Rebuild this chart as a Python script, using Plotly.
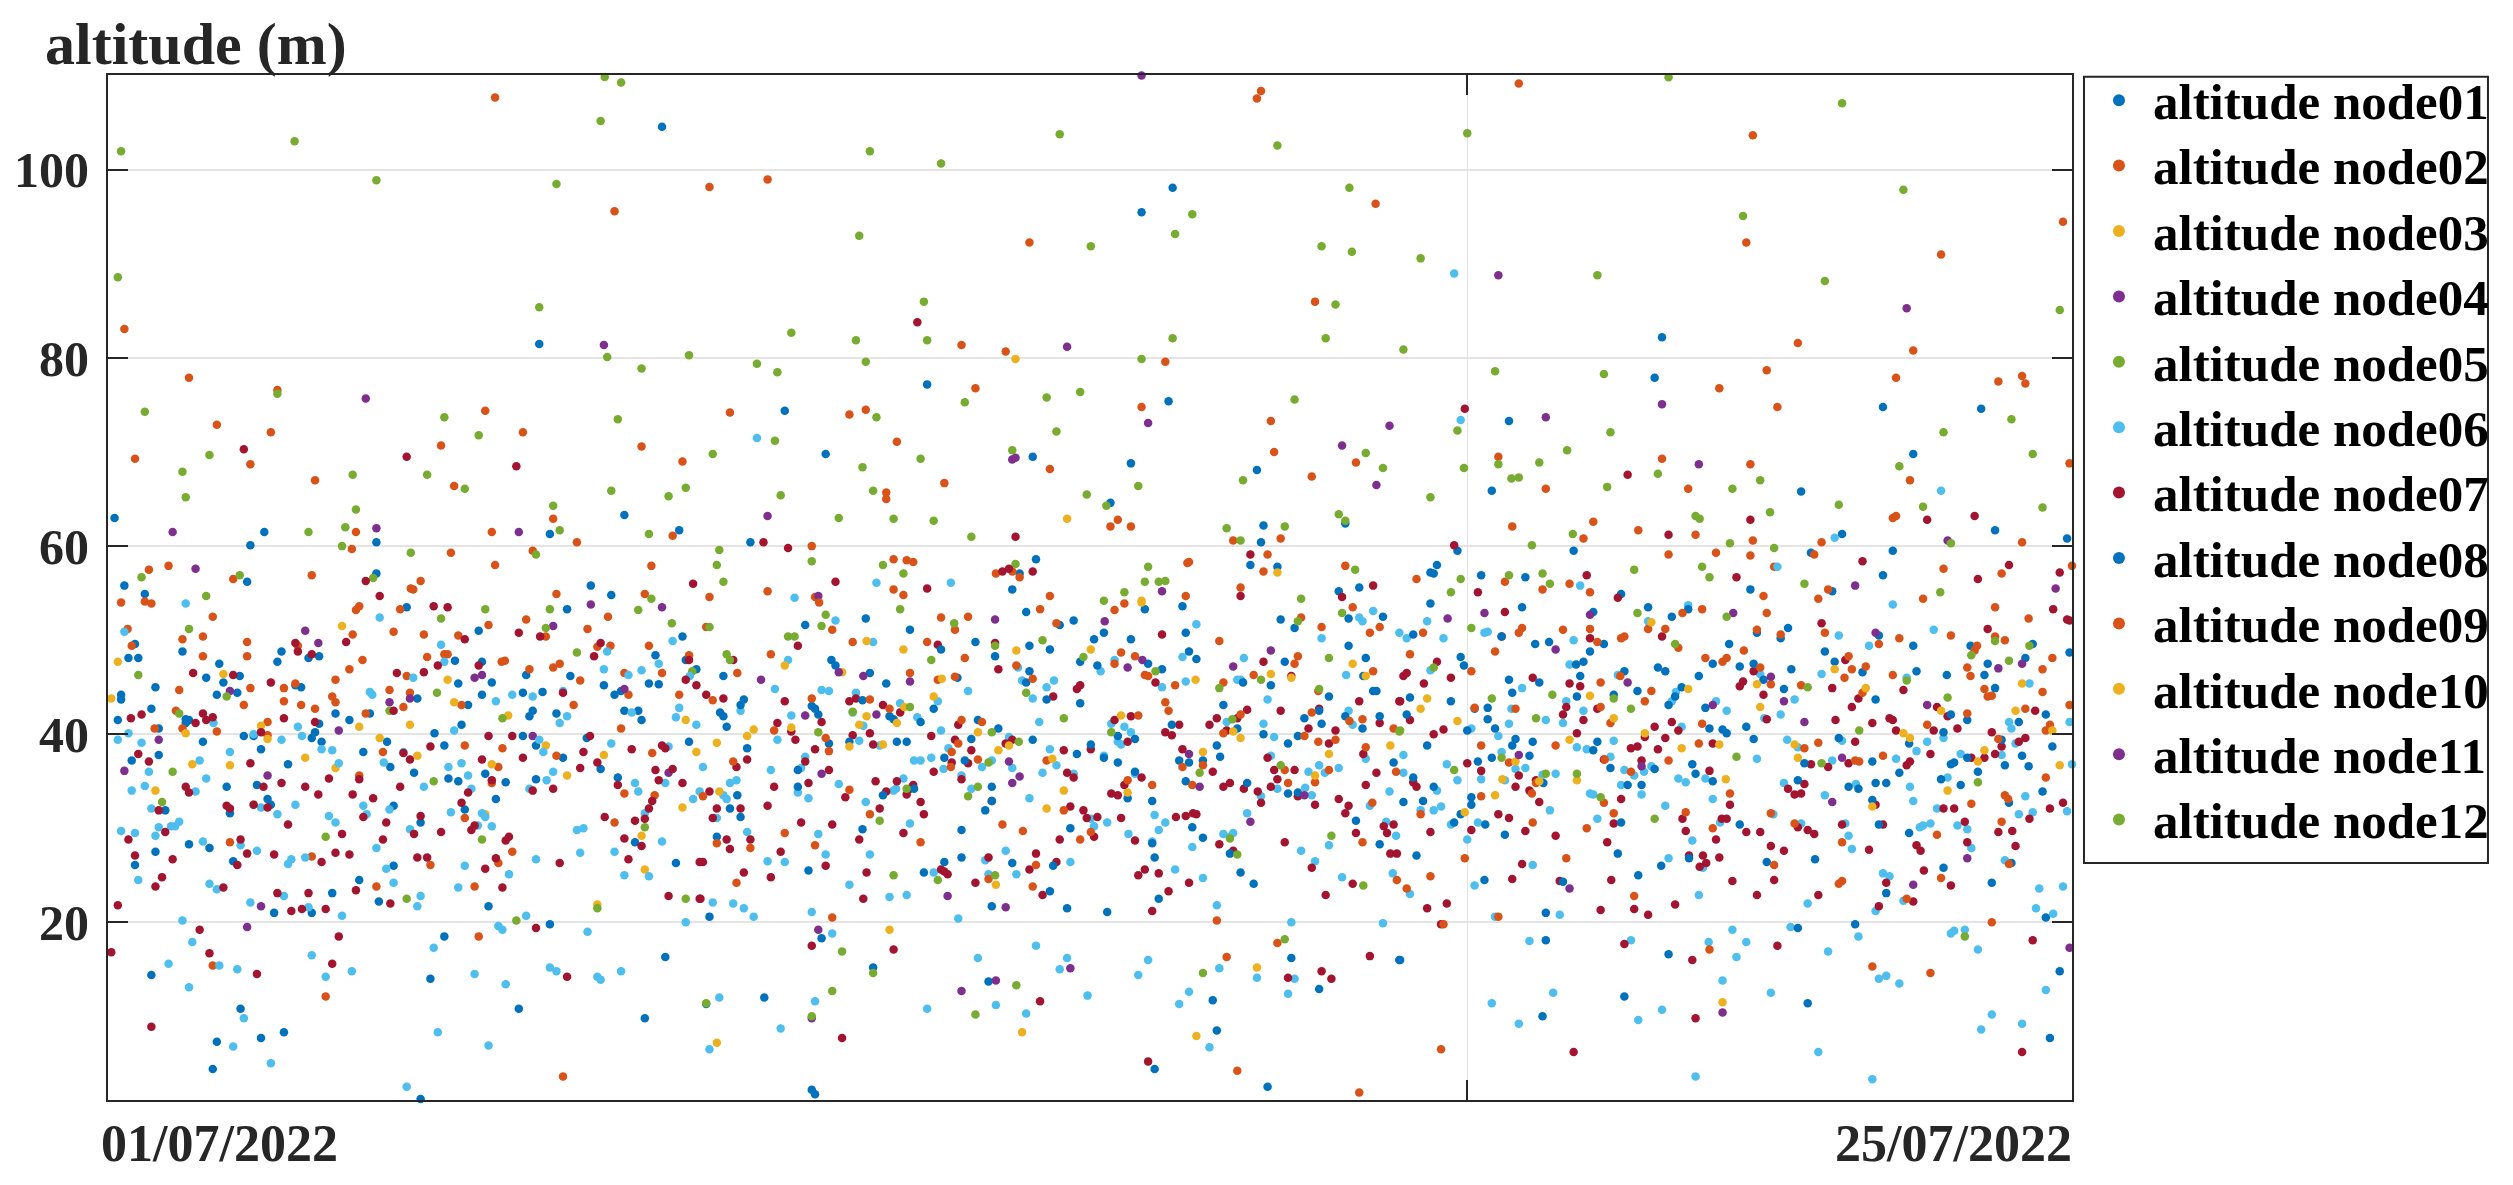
import plotly.graph_objects as go

# each point is [day since 01/07/2022, altitude in m]
node01 = [
[6.77,104.6],[5.27,81.5],[.08,63.0],[6.31,63.3],[1.91,61.5],[1.74,60.1],[3.28,60.4],[5.40,61.3],[6.98,61.7],[.20,55.8],[.45,54.9],[1.70,56.2],[3.28,57.1],[5.90,55.8],[6.15,54.8],
[10.01,77.2],[13.01,98.1],[12.63,95.5],[8.27,74.4],[12.96,75.4],[8.77,69.8],[11.3,69.5],[12.5,68.8],[14.04,68.1],[12.25,64.6],[14.12,62.2],[7.85,60.4],[14.09,60.4],[15.12,62.4],[11.34,58.6],[13.96,58.0],[14.29,57.8],[11.14,57.1],[11.05,55.4],[15.04,55.2],[15.29,55.6],
[18.99,82.2],[18.9,77.9],[21.69,74.8],[22.89,74.6],[17.12,73.3],[22.06,69.8],[16.91,65.9],[20.69,65.8],[21.19,61.3],[23.06,61.7],[23.94,60.8],[16.49,59.5],[17.91,59.5],[21.81,59.5],[20.81,59.3],[16.24,58.0],[16.16,57.2],[16.2,57.1],[16.78,56.9],[17.32,56.7],[21.69,56.9],[18.49,54.9],[20.07,55.4],[21.07,55.2],
[3.65,53.5],[5.61,53.3],[4.53,51.0],[7.02,50.4],[.33,49.6],[.25,48.1],[.37,48.1],[.91,48.8],[2.12,48.8],[2.07,47.7],[2.45,48.1],[2.58,48.3],[1.36,47.5],[4.24,47.8],[4.57,47.7],[6.69,48.4],[5.11,46.3],[5.65,46.2],[1.2,46.0],[1.61,46.2],[1.41,45.5],[.58,45.0],[.16,44.2],[.16,43.7],[1.33,44.2],[1.58,44.4],[2.29,45.2],[2.36,45.0],[4.28,45.4],[4.69,45.5],[6.06,45.2],[6.61,45.4],[6.73,45.3],[7.19,46.9],[7.06,47.9],[6.19,44.2],[6.27,44.6],[4.57,44.2],[5.07,44.4],[5.31,44.5],[3.78,43.8],[4.40,43.1],[.53,42.7],[.12,41.5],[.62,40.6],[.95,41.6],[.99,41.5],[.95,41.2],[2.58,41.1],[2.53,40.2],[2.78,42.2],[2.95,41.5],[3.2,42.2],[4.32,41.0],[5.15,41.9],[5.19,42.5],[5.48,42.2],[6.31,42.5],[6.48,42.5],[6.52,41.5],[1.66,39.8],[1.78,39.8],[2.49,39.6],[2.61,39.2],[3.99,40.1],[3.41,39.2],[1.16,39.2],[4.11,38.8],[5.07,39.8],[5.23,38.8],[5.85,39.6],[7.10,39.2],[.62,37.8],[.29,37.2],[1.87,38.4],[3.12,38.1],[2.2,36.8],[3.45,36.5],[5.56,37.5],[6.02,36.3],[3.74,35.9],[4.16,35.3],[4.28,35.0],[4.61,35.8],[4.86,34.9],[5.23,35.2],[6.23,35.4],[1.82,34.6],[1.45,34.4],[1.95,33.1],[1.99,32.5],[4.74,33.1],[3.49,32.4],[4.36,32.0],[.70,31.9],[1.49,31.6],[3.82,30.6],[.99,28.3],[.58,27.5],[1.24,27.9],[6.44,28.5],[.33,26.1],[1.53,26.5],[6.94,26.3],[3.49,26.0],[3.07,24.5],[2.74,23.1],[3.31,22.2],[4.65,21.7],[2.03,21.0],[2.49,21.0],[5.4,19.8],[4.11,18.5],[6.81,16.3],[.53,14.4],[3.94,14.0],[1.62,10.8],[5.02,10.8],[6.56,9.8],[1.33,7.3],[2.15,8.3],[1.87,7.7],[1.28,4.4],[3.82,1.2],
]
node02 = [
[4.73,107.7],[6.19,95.6],[.20,83.1],[.99,77.9],[2.07,76.6],[1.33,72.9],[1.99,72.1],[4.61,74.4],[5.07,72.1],[.33,69.3],[1.74,68.7],[4.07,70.7],[6.52,70.6],[7.02,69.0],[2.53,67.0],[4.23,66.4],[5.44,62.9],[3.03,61.5],[4.69,61.5],[5.73,60.4],[6.90,61.1],[2.98,59.7],[4.19,59.3],[5.19,59.5],[.50,57.5],[.74,57.9],[4.73,58.0],[6.64,57.9],[1.53,56.5],[2.49,56.9],[3.82,56.3],[3.70,55.5],[3.73,55.4],[5.48,54.9],[6.56,54.9],
[7.35,98.2],[8.06,99.0],[14.09,108.4],[14.04,107.6],[15.49,96.4],[11.26,92.3],[14.75,86.0],[10.43,81.4],[10.97,80.7],[12.92,79.6],[10.6,76.8],[7.6,74.2],[9.06,74.0],[9.26,74.5],[12.63,74.8],[14.21,73.3],[9.64,71.1],[14.25,70.0],[15.25,68.9],[11.51,68.2],[14.71,67.4],[10.22,66.7],[9.51,65.7],[9.51,65.0],[12.34,62.8],[12.25,62.1],[12.5,62.1],[13.75,60.6],[14.33,60.8],[8.6,60.0],[9.6,58.6],[9.76,58.5],[9.84,58.3],[14.17,59.1],[13.19,58.2],[13.21,58.3],[15.12,57.9],[10.85,57.1],[11.05,57.3],[11.14,56.7],[14.12,57.3],[8.06,55.2],[9.6,55.4],[9.72,54.8],[13.84,55.6],[7.35,54.6],[8.64,54.6],[11.51,54.7],[13.17,54.7],
[17.24,109.2],[20.1,103.7],[23.89,94.5],[20.02,92.3],[22.4,91.0],[20.65,81.6],[22.06,80.8],[20.27,78.7],[21.85,77.9],[19.69,76.8],[23.1,77.5],[23.39,78.1],[23.43,77.3],[20.4,74.8],[16.99,69.5],[18.99,69.3],[20.07,68.7],[23.97,68.8],[22.02,67.0],[17.57,66.1],[19.31,66.1],[17.16,62.1],[18.15,62.6],[21.81,63.0],[21.85,63.2],[18.7,61.7],[19.4,61.2],[18.03,60.8],[20.1,60.6],[20.94,60.4],[23.39,60.4],[19.07,59.1],[19.65,59.3],[20.07,59.0],[20.85,59.1],[20.36,57.8],[22.43,57.6],[24.0,57.9],[15.99,56.5],[23.14,57.1],[17.07,56.2],[17.86,56.0],[17.53,55.4],[18.11,55.1],[21.02,55.4],[20.23,54.7],[20.9,54.4],[22.18,54.4],
[.16,54.0],[.45,54.1],[.53,53.9],[1.28,52.5],[.24,51.2],[.91,50.1],[1.16,50.4],[.29,49.4],[1.70,49.8],[1.70,48.3],[1.16,48.3],[.87,44.7],[.83,42.5],[.91,40.6],[.57,40.6],[1.33,40.3],[1.66,43.1],[1.74,44.9],[2.15,44.9],[2.29,45.4],[2.15,43.5],[2.36,43.1],[2.53,42.7],[1.95,41.3],[1.95,39.9],[2.32,49.4],[3.03,53.2],[3.07,53.6],[3.57,53.3],[2.99,50.6],[3.49,50.9],[3.86,50.6],[3.11,47.9],[2.95,46.9],[2.78,45.8],[2.74,44.0],[2.78,43.4],[3.44,44.7],[3.69,44.4],[3.65,46.2],[3.61,42.9],[3.15,42.2],[3.90,48.2],[4.11,48.5],[4.15,48.5],[4.28,50.5],[4.65,51.6],[5.11,52.2],[4.81,47.7],[4.85,47.8],[5.15,46.9],[5.35,50.4],[5.44,47.1],[5.52,47.5],[5.69,43.1],[5.77,45.7],[5.86,51.2],[6.11,52.5],[5.98,49.3],[6.14,49.4],[6.31,46.5],[6.61,49.4],[6.77,46.5],[6.98,44.2],[6.36,44.2],[7.10,48.4],[6.27,40.6],[4.32,43.1],[4.36,38.8],[3.36,38.1],[4.82,38.5],[4.77,36.5],[4.69,34.8],[5.48,37.7],[6.65,38.0],[3.07,35.6],[6.31,33.7],[6.68,33.5],[4.36,31.1],[6.19,30.6],[1.49,28.5],[4.94,27.5],[2.49,27.0],[3.94,26.1],[4.77,26.3],[3.28,23.8],[4.48,23.8],[4.53,18.5],[1.28,15.4],[2.66,12.1],[5.56,3.6],
]
node03 = [
[11.09,79.9],[11.72,62.9],[14.29,57.2],[12.63,54.2],
[.12,47.7],[.04,43.8],[1.41,46.4],[2.86,51.5],[4.15,45.8],[4.23,43.4],[4.89,42.0],[1.87,40.9],[.95,40.1],[1.95,39.5],[3.07,40.8],[3.69,41.0],[3.32,39.6],[5.35,38.8],[1.03,36.8],[1.49,36.7],[2.41,37.5],[2.78,36.4],[3.78,37.7],[4.69,36.8],[.58,34.0],[5.61,35.6],[6.06,37.8],[7.06,41.5],[7.19,38.1],[7.02,32.2],[6.52,29.2],[6.56,25.6],[5.98,21.9],[4.61,31.5],
]
node04 = [
[3.15,75.7],[6.06,81.4],[.79,61.5],[3.28,61.9],[5.02,61.5],[1.07,57.6],
[12.63,110.05],[11.72,81.2],[12.71,73.1],[15.66,72.8],[15.08,70.7],[11.05,69.2],[11.09,69.4],[15.5,66.5],[8.06,63.2],[8.68,54.7],[12.88,55.2],
[16.99,88.8],[21.98,85.3],[18.99,75.1],[17.57,73.7],[19.44,68.7],[22.48,60.6],[21.35,55.8],[23.8,55.5],
[5.9,53.8],[6.77,53.5],[2.41,51.0],[2.57,49.7],[5.44,51.5],[4.48,46.0],[4.57,46.3],[1.49,44.6],[6.31,44.8],[3.69,43.8],[3.44,43.4],[2.82,40.4],[.62,39.4],[5.19,39.8],[.20,36.1],[1.95,35.6],[6.85,35.9],[1.87,21.7],[1.70,19.5],
]
node05 = [
[.16,102.0],[2.28,103.05],[3.28,98.9],[5.48,98.5],[6.02,105.2],[6.07,109.9],[6.27,109.3],[5.27,85.4],[.12,88.6],[6.10,80.1],[7.10,80.3],[6.52,78.9],[6.23,73.5],[4.11,73.7],[4.53,71.8],[.45,74.3],[1.24,69.7],[.91,67.9],[.95,65.2],[2.99,67.6],[3.90,67.6],[4.36,66.1],[2.07,76.2],[3.03,63.9],[5.44,64.3],[6.15,65.9],[6.85,65.3],[7.06,66.2],[5.52,61.7],[6.61,61.3],[2.45,61.5],[2.90,62.0],[2.86,60.0],[3.70,59.3],[5.23,59.1],[1.61,56.9],[.41,56.7],[3.24,56.6],[1.20,54.7],[6.64,54.4],
[9.31,102.0],[10.18,100.7],[11.63,103.8],[14.29,102.6],[15.17,98.1],[13.25,95.3],[13.04,93.2],[12.01,91.9],[9.18,93.0],[14.83,91.9],[15.2,91.3],[15.0,85.7],[9.97,86.0],[8.35,82.7],[9.14,81.9],[10.01,81.9],[13.01,82.1],[14.88,82.1],[7.93,79.4],[8.18,78.5],[9.26,79.6],[12.63,79.9],[10.47,75.3],[11.47,75.8],[11.88,76.4],[9.39,73.7],[11.59,72.2],[14.50,75.6],[8.15,71.2],[7.39,69.8],[11.05,70.2],[9.93,69.3],[9.22,68.4],[15.37,69.9],[15.58,68.3],[13.87,67.0],[12.59,66.4],[8.22,65.4],[9.35,65.9],[11.96,65.5],[12.2,64.3],[8.93,63.0],[9.60,62.9],[10.09,62.7],[15.04,63.4],[15.12,62.7],[13.67,61.9],[14.38,62.1],[10.55,61.0],[13.84,60.6],[7.47,59.6],[7.44,58.0],[8.60,58.4],[9.47,58.0],[9.72,57.1],[7.52,56.2],[11.09,58.1],[12.71,57.8],[12.67,56.2],[12.84,56.2],[12.92,56.3],[12.42,55.1],[15.24,57.5],[12.17,54.2],[14.58,54.4],
[19.07,109.85],[21.19,107.1],[16.61,103.9],[21.94,97.9],[19.98,95.1],[16.04,90.6],[18.2,88.8],[20.98,88.2],[23.85,85.1],[15.83,80.9],[16.95,78.6],[18.28,78.3],[18.36,72.1],[22.43,72.1],[23.26,73.5],[16.49,72.3],[17.83,70.2],[23.52,69.8],[17.49,68.9],[16.57,68.3],[16.99,68.7],[21.89,68.5],[18.94,67.7],[17.15,67.2],[17.24,67.3],[20.19,67.0],[18.32,66.3],[19.85,66.1],[16.16,65.2],[21.15,64.4],[22.18,64.2],[23.64,64.1],[20.31,63.6],[19.4,63.2],[19.45,62.9],[17.9,61.3],[19.82,60.3],[17.4,60.1],[20.36,59.8],[22.52,60.3],[19.48,57.8],[18.65,57.5],[19.57,56.7],[17.12,56.9],[17.53,57.1],[16.53,56.5],[16.41,55.1],[17.62,56.0],[20.73,56.0],[22.39,55.1],
[4.61,53.3],[4.07,52.3],[5.40,53.3],[6.48,53.2],[6.89,51.8],[.99,51.2],[5.35,51.3],[5.73,48.7],[.37,46.3],[7.14,46.7],[4.02,44.4],[1.45,44.0],[3.44,42.5],[.87,42.2],[4.82,41.7],[.79,36.0],[3.98,35.0],[.66,32.8],[1.78,32.5],[6.56,30.1],[2.66,29.1],[4.57,28.8],[3.65,22.5],[7.06,22.5],[5.98,21.5],[4.99,20.2],
]
node06 = [
[7.93,71.5],[9.39,56.1],[10.3,56.1],[8.39,54.5],[16.45,89.0],[16.53,73.4],[22.4,65.9],[21.1,60.9],[20.4,57.8],[17.99,55.8],
[.95,53.9],[.20,50.9],[3.32,52.4],[4.07,49.5],[4.11,47.7],[6.9,49.9],[6.1,48.8],[6.06,46.9],[6.36,46.3],[6.52,46.8],[6.73,47.5],[7.11,46.2],[3.73,46.0],[3.2,44.5],[3.23,44.2],[4.94,44.2],[5.19,44.0],[5.56,44.6],[4.74,43.5],[6.98,42.8],[5.61,41.9],[5.52,41.2],[6.40,42.3],[6.94,41.8],[7.19,41.0],[1.29,41.2],[2.32,40.8],[4.23,40.4],[.25,40.1],[.12,39.4],[1.78,40.0],[2.37,39.8],[2.12,39.4],[.41,39.1],[6.15,39.0],[5.27,39.4],[6.85,38.7],[2.61,38.4],[2.74,38.3],[3.61,38.1],[1.49,38.1],[5.32,38.1],[1.12,37.2],[2.82,36.9],[3.37,37.0],[4.16,36.5],[4.32,36.9],[.50,36.0],[4.4,35.6],[5.44,36.0],[1.2,35.3],[.45,34.5],[.29,34.0],[1.07,33.9],[3.86,34.4],[4.44,34.2],[5.36,35.1],[5.15,34.2],[6.44,34.8],[6.48,33.9],[6.81,34.8],[7.23,33.9],[7.15,33.1],[.53,32.1],[1.87,32.2],[2.29,32.5],[3.12,32.4],[3.44,32.0],[4.19,31.7],[2.07,31.5],[2.70,31.3],[3.16,31.5],[4.57,31.6],[4.61,31.2],[6.56,31.6],[.87,30.7],[.77,30.2],[.82,30.2],[.62,30.1],[2.78,30.6],[4.52,30.3],[4.69,30.2],[.16,29.7],[.33,29.5],[.58,29.2],[3.69,29.9],[5.73,29.8],[5.81,30.0],[1.16,28.6],[1.62,28.2],[1.82,27.6],[3.28,27.9],[6.77,28.6],[6.19,27.5],[5.77,27.4],[2.24,26.7],[2.2,26.2],[2.41,26.9],[5.23,26.7],[3.4,25.7],[4.36,26.0],[.37,24.5],[4.9,25.1],[6.31,25.0],[6.61,24.9],[3.49,24.2],[1.24,24.1],[1.33,23.5],[4.28,23.7],[1.74,22.1],[2.15,22.8],[2.45,21.6],[3.82,22.8],[3.78,21.7],[2.86,20.7],[.91,20.2],[5.11,20.7],[7.06,20.0],[4.77,19.6],[4.82,19.2],[5.86,19.0],[1.03,17.9],[3.98,17.3],[2.49,16.5],[.74,15.6],[1.36,15.4],[1.58,15.0],[2.66,14.2],[2.98,14.8],[4.48,14.5],[5.4,15.2],[5.48,14.8],[5.98,14.2],[6.02,13.9],[6.27,14.8],[4.86,13.4],[.99,13.1],[1.66,9.8],[4.03,8.3],[1.53,6.8],[4.65,6.9],[1.99,5.0],[3.65,2.5],
[8.89,52.1],[9.35,49.8],[13.3,51.7],[14.83,50.2],[15.29,52.4],[15.33,52.0],[15.46,53.1],[15.78,50.8],[13.88,48.1],[13.13,48.2],[12.3,47.9],[8.31,47.9],[11.12,47.1],[12.13,46.7],[15.13,46.3],[11.17,45.7],[11.56,45.7],[12.88,45.0],[13.17,45.6],[13.8,45.8],[13.84,45.8],[11.47,45.0],[8.15,44.8],[8.72,44.7],[8.81,44.6],[9.14,44.4],[10.51,44.6],[11.3,43.8],[14.17,43.7],[9.68,43.3],[10.14,43.5],[7.73,42.5],[15.16,42.5],[8.35,42.0],[9.1,42.3],[9.89,41.8],[13.67,41.3],[14.12,41.1],[15.21,41.0],[9.23,40.9],[12.26,41.1],[12.42,40.8],[11.38,41.3],[10.18,40.4],[12.5,40.2],[8.18,39.4],[9.18,39.3],[11.01,39.7],[14.25,39.7],[12.34,39.2],[12.38,38.9],[9.43,38.8],[10.27,38.5],[11.51,38.4],[12.17,37.7],[8.52,37.6],[10.06,37.5],[9.85,37.2],[9.93,37.2],[10.8,37.2],[11.59,36.7],[14.21,37.7],[15.37,37.4],[7.27,36.5],[8.1,36.2],[8.47,36.4],[10.21,36.3],[10.68,36.5],[11.05,36.4],[14.8,36.7],[15.04,36.4],[7.68,35.1],[7.6,34.8],[9.72,35.3],[8.93,34.7],[10.43,35.6],[11.42,35.9],[11.8,35.8],[12.55,35.8],[14.67,36.0],[14.87,35.9],[8.43,33.8],[10.55,34.2],[9.63,34.2],[9.6,34.0],[14.29,34.2],[14.63,34.3],[15.66,33.9],[7.52,33.5],[7.56,33.1],[8.56,33.2],[11.26,33.2],[14.09,33.4],[14.71,33.5],[9.26,32.8],[15.42,32.4],[7.44,31.1],[12.01,31.0],[12.79,31.4],[13.92,31.6],[15.62,30.7],[9.8,30.5],[12.05,30.2],[12.21,30.6],[12.92,30.6],[12.84,29.8],[7.81,29.6],[8.68,29.4],[12.47,29.4],[13.63,29.4],[13.75,29.5],[13.71,29.1],[15.74,29.2],[12.76,28.6],[14.92,28.2],[13.25,28.0],[10.97,27.6],[14.58,27.6],[9.31,27.2],[8.77,27.2],[8.06,26.5],[8.27,26.4],[10.72,26.6],[11.76,26.4],[14.75,26.5],[13.04,25.6],[10.09,25.3],[10.76,25.1],[11.1,25.1],[13.38,24.7],[15.08,24.8],[15.7,25.2],[9.06,24.0],[9.55,22.7],[9.76,22.9],[7.39,22.1],[7.64,22.0],[7.77,21.5],[13.55,21.8],[8.6,21.1],[7.89,20.6],[10.39,20.4],[14.46,20.0],[15.58,19.9],[8.85,18.8],[11.34,17.5],[10.63,16.2],[11.72,16.2],[12.71,16.0],[11.63,15.0],[12.59,14.4],[13.58,15.1],[14.04,14.1],[14.5,14.0],[13.21,12.6],[7.47,12.0],[11.97,12.2],[14.42,12.4],[8.64,11.6],[10.85,11.2],[13.09,11.3],[10.01,10.8],[11.22,10.3],[8.22,8.7],[7.35,6.5],[13.46,6.7],
[16.12,52.0],[19.31,53.7],[21.81,53.8],[18.82,52.0],[16.82,50.8],[16.86,50.9],[15.87,50.2],[16.32,50.2],[17.91,50.0],[21.15,50.5],[22.31,51.1],[21.52,49.4],[17.86,47.4],[16.16,46.8],[18.45,46.3],[20.94,46.4],[20.19,46.4],[21.98,46.0],[17.28,44.9],[23.48,45.4],[19.16,44.5],[19.65,43.5],[17.82,43.5],[19.11,43.5],[20.61,43.7],[17.15,42.7],[18.03,42.5],[19.78,42.5],[20.44,42.1],[20.24,41.7],[17.57,41.5],[17.12,41.1],[17.78,41.2],[19.23,40.8],[23.23,41.3],[23.26,40.6],[23.97,41.3],[16.66,40.6],[16.99,39.8],[18.4,39.3],[20.52,39.4],[21.19,39.3],[22.23,39.2],[22.43,39.6],[17.95,38.6],[18.07,38.4],[20.65,38.6],[22.1,38.2],[22.64,37.9],[23.31,39.0],[15.83,37.8],[17.03,38.1],[18.36,37.6],[20.15,37.4],[21.07,37.2],[21.85,37.4],[23.14,37.8],[16.36,36.8],[17.32,36.4],[17.2,36.3],[18.86,36.6],[15.83,35.9],[18.53,36.2],[18.77,36.0],[18.65,35.6],[17.69,35.8],[17.53,35.7],[16.78,35.2],[16.49,35.1],[17.07,35.1],[19.19,35.3],[19.28,34.9],[19.52,35.3],[22.48,35.4],[20.48,34.8],[21.36,34.7],[18.49,34.6],[22.02,34.4],[16.24,34.0],[18.11,33.7],[18.15,33.6],[18.74,33.6],[20.98,33.5],[23.43,33.4],[19.61,33.1],[22.06,32.9],[16.29,32.3],[16.04,31.9],[16.2,31.9],[17.62,31.9],[19.03,32.4],[22.35,32.1],[23.52,31.7],[23.94,31.8],[23.35,31.5],[20.35,31.5],[18.2,31.0],[16.41,30.4],[16.74,30.6],[19.7,30.6],[20.69,30.5],[21.23,30.5],[22.27,30.5],[22.18,30.3],[22.14,30.1],[22.6,30.3],[22.72,29.9],[16.61,28.8],[19.36,28.7],[21.27,29.2],[21.31,27.8],[22.77,27.9],[19.07,26.8],[17.41,26.1],[23.18,26.6],[19.49,25.8],[21.69,25.2],[21.77,24.9],[16.7,23.9],[23.6,23.6],[23.89,23.8],[19.44,22.9],[15.91,23.0],[20.77,22.0],[21.94,22.3],[23.56,21.5],[21.6,21.2],[16.95,20.6],[17.74,20.8],[23.77,20.9],[20.56,19.5],[19.85,19.2],[22.69,19.2],[22.56,19.1],[22.52,18.8],[21.39,18.5],[17.37,18.0],[18.61,18.1],[19.56,17.9],[20.02,17.9],[21.02,16.9],[22.85,17.1],[19.9,16.3],[19.73,13.8],[21.64,14.0],[21.73,14.3],[21.89,13.5],[17.66,12.5],[20.32,12.5],[23.68,12.8],[16.91,11.4],[18.99,10.7],[23.02,10.2],[17.24,9.2],[18.7,9.6],[23.39,9.2],[22.89,8.6],[20.9,6.2],[19.4,3.6],[21.56,3.3],[24.0,36.8],
]
node07 = [
[1.66,70.3],[3.65,69.5],[4.99,68.5],[3.15,56.3],[3.32,54.7],[7.15,56.0],
[9.89,83.8],[8.01,60.4],[8.31,59.8],[11.09,61.0],[8.89,56.2],[10.01,55.5],[10.93,57.3],[11.01,57.6],[11.30,57.3],[13.96,59.1],[15.46,55.8],[13.84,54.7],[15.08,54.6],
[16.58,74.6],[18.57,67.6],[20.07,62.8],[22.23,62.8],[22.81,63.2],[19.07,61.2],[16.45,60.1],[21.44,58.4],[23.23,58.0],[18.07,56.9],[19.9,56.7],[23.85,57.2],[22.85,56.5],[16.74,55.1],[18.45,54.5],
[3.98,53.6],[4.15,53.5],[5.02,50.8],[4.36,50.1],[5.28,50.4],[6.02,49.7],[2.29,49.7],[2.91,49.8],[2.32,48.8],[2.49,48.5],[5.94,48.3],[4.03,47.3],[4.53,47.3],[7.1,47.9],[3.86,46.6],[3.53,46.5],[1.04,46.5],[1.53,46.3],[1.99,45.5],[7.06,45.8],[7.19,45.2],[5.56,44.4],[3.49,42.5],[.41,42.1],[.28,41.7],[1.16,42.2],[1.28,41.8],[1.2,41.5],[1.07,41.2],[2.15,41.7],[2.53,41.3],[1.87,40.2],[4.94,39.8],[4.65,39.8],[5.89,39.8],[3.94,38.7],[6.77,38.8],[6.81,38.5],[6.4,38.4],[.37,37.9],[3.61,38.0],[5.81,38.1],[3.69,37.3],[4.57,37.3],[5.07,37.5],[.50,37.1],[1.74,36.9],[5.98,37.0],[5.77,36.4],[6.69,36.2],[6.9,36.3],[2.7,35.3],[3.07,35.2],[6.73,35.1],[7.02,34.8],[2.12,34.8],[1.9,34.4],[2.41,34.4],[3.57,34.4],[5.44,34.2],[6.23,34.6],[.95,34.4],[.99,33.8],[5.19,34.0],[4.69,35.1],[2.57,33.6],[2.99,33.6],[3.24,33.2],[4.4,33.8],[4.32,32.7],[6.65,32.9],[1.45,32.4],[1.49,32.1],[1.78,32.5],[1.95,32.2],[.62,31.9],[6.61,32.1],[6.56,31.0],[3.82,31.3],[3.12,31.2],[6.07,31.2],[6.44,30.8],[2.2,30.4],[3.4,30.6],[4.48,30.3],[4.44,29.8],[4.07,29.6],[.70,29.6],[3.74,29.4],[2.86,29.4],[4.9,29.1],[4.86,28.7],[.25,28.8],[1.62,28.8],[3.36,28.8],[6.31,28.9],[6.52,28.1],[1.70,27.3],[2.03,27.2],[2.78,27.4],[2.95,27.2],[.33,27.1],[.79,26.7],[3.78,26.9],[3.9,26.9],[4.74,26.8],[6.36,26.7],[2.61,26.4],[5.52,26.3],[1.58,26.1],[4.61,25.7],[7.23,26.4],[.66,24.8],[.58,23.8],[1.41,23.7],[3.03,23.4],[4.82,23.7],[2.07,23.1],[2.45,23.1],[6.85,22.8],[7.23,22.5],[.12,21.8],[2.24,21.2],[2.37,21.4],[2.66,21.4],[3.45,22.0],[5.23,19.4],[1.12,19.2],[2.82,18.5],[.04,16.8],[1.24,16.7],[2.74,15.6],[1.82,14.5],[5.61,14.2],[.53,8.9],
[12.88,50.6],[8.43,49.4],[10.84,49.7],[10.14,49.5],[7.64,47.9],[10.88,46.9],[14.12,47.7],[14.46,46.2],[11.88,45.2],[11.84,44.8],[11.55,44.0],[12.8,45.5],[7.31,44.2],[7.52,43.8],[8.27,43.5],[9.14,43.8],[9.06,43.5],[9.47,43.1],[9.68,42.3],[15.29,43.5],[15.78,43.5],[13.92,42.6],[14.33,42.5],[14.8,42.7],[8.72,41.3],[8.18,41.2],[10.39,41.0],[12.3,41.5],[12.5,41.9],[13.55,41.7],[13.8,41.7],[13.09,41.0],[13.46,41.0],[15.54,41.2],[8.35,40.3],[9.1,39.9],[9.31,40.1],[12.92,40.2],[13.0,39.9],[13.67,40.4],[14.67,40.6],[15.0,40.4],[8.4,39.4],[9.35,38.9],[10.06,39.8],[10.35,39.4],[12.46,39.2],[11.05,39.4],[10.97,39.0],[14.92,39.0],[8.64,38.4],[10.55,38.3],[11.68,38.3],[12.01,38.4],[13.13,38.4],[15.34,37.9],[7.81,37.3],[8.52,37.1],[10.31,37.0],[10.51,36.9],[14.17,37.5],[7.68,36.5],[8.81,36.2],[10.09,36.0],[13.5,36.0],[14.25,36.2],[14.5,36.2],[15.5,35.9],[11.72,35.9],[11.8,35.4],[12.63,35.4],[10.43,35.2],[9.38,35.0],[9.64,35.0],[14.29,35.2],[8.56,34.8],[8.14,34.4],[9.84,34.6],[9.8,34.2],[12.42,34.6],[13.71,34.8],[13.63,34.4],[13.88,34.2],[14.21,34.4],[15.37,34.6],[7.35,33.9],[9.51,33.9],[9.76,33.6],[12.26,33.7],[12.34,33.5],[14.05,33.9],[14.54,33.4],[9.01,33.3],[15.04,33.1],[10.8,32.9],[9.93,32.8],[14.09,32.7],[14.75,32.5],[8.06,32.4],[11.76,32.3],[7.44,32.1],[7.73,32.1],[9.43,32.1],[11.92,31.9],[15.16,32.4],[9.97,31.5],[15.12,31.6],[13.26,31.6],[13.3,31.5],[13.05,31.2],[13.17,31.3],[12.09,31.2],[11.96,31.1],[7.39,31.1],[12.38,31.1],[8.47,30.6],[8.85,30.4],[15.59,30.2],[15.71,30.4],[15.63,29.5],[15.25,29.5],[9.72,29.5],[12.05,29.1],[9.18,28.8],[7.85,28.8],[11.63,28.8],[7.56,28.8],[12.55,28.7],[14.38,28.5],[13.58,28.3],[7.6,27.8],[13.75,27.6],[8.22,27.5],[11.34,27.3],[15.67,27.3],[15.75,27.3],[10.76,26.9],[11.59,26.4],[7.27,26.4],[8.77,26.0],[11.26,25.6],[10.18,25.6],[10.22,25.4],[10.26,25.1],[14.71,25.8],[7.77,25.3],[9.27,25.3],[12.67,25.6],[12.59,25.0],[12.84,25.2],[8.1,24.8],[10.6,24.2],[13.21,24.2],[15.21,24.1],[12.96,23.3],[11.42,22.9],[14.88,22.9],[9.23,22.5],[7.24,22.5],[12.76,21.2],[8.6,17.5],[9.6,17.1],[15.42,16.4],[14.83,14.8],[14.42,14.1],[14.95,14.0],[11.39,11.6],[8.97,7.7],[12.71,5.2],
[17.07,53.0],[20.94,51.8],[22.97,51.2],[23.77,53.3],[23.94,52.2],[23.97,52.1],[17.03,50.4],[18.11,50.2],[18.99,50.4],[16.24,47.7],[21.23,47.9],[20.11,46.7],[15.83,46.2],[15.87,46.5],[16.41,46.0],[17.41,46.0],[16.08,45.4],[17.86,45.4],[17.99,45.1],[19.98,45.6],[19.94,45.1],[21.07,44.9],[21.94,44.7],[20.23,44.2],[21.39,43.8],[15.79,43.5],[17.82,42.9],[18.2,42.7],[21.31,42.9],[22.35,42.9],[22.48,41.9],[15.91,41.5],[17.78,42.1],[18.03,41.5],[20.27,41.6],[21.11,41.5],[21.56,41.2],[21.77,41.7],[21.81,41.5],[19.11,41.3],[23.55,42.5],[16.32,40.5],[18.9,40.8],[19.19,40.4],[21.85,40.4],[22.31,40.4],[22.6,40.6],[16.2,40.0],[17.95,40.1],[18.78,39.7],[23.02,40.2],[19.03,39.6],[23.43,39.6],[18.69,38.7],[18.61,38.5],[18.94,38.4],[19.61,39.0],[21.35,39.2],[23.14,38.7],[23.35,39.2],[22.27,37.9],[23.06,37.9],[22.93,37.5],[22.77,37.5],[18.28,37.3],[18.74,37.2],[16.61,36.9],[20.81,36.8],[21.02,36.5],[21.27,36.9],[22.02,37.1],[21.98,36.7],[16.78,36.1],[19.57,36.1],[17.24,35.6],[15.95,34.9],[15.99,34.4],[17.45,35.1],[20.73,34.7],[17.2,34.4],[20.53,34.2],[17.37,34.0],[20.61,33.6],[20.69,33.7],[18.49,33.1],[17.49,32.8],[21.6,32.5],[19.82,32.5],[22.43,32.1],[22.56,32.1],[23.73,32.1],[23.89,32.7],[16.99,31.5],[17.12,31.1],[19.24,31.0],[19.72,31.0],[19.78,31.0],[22.69,30.7],[23.48,31.0],[18.4,30.5],[16.66,29.8],[20.65,30.1],[20.77,29.8],[20.85,29.4],[21.19,30.4],[21.69,30.4],[16.16,29.6],[17.32,29.7],[19.28,29.7],[20.02,29.6],[20.19,29.6],[23.1,29.6],[23.27,29.7],[17.69,29.2],[19.65,28.8],[20.32,28.1],[20.48,27.6],[18.32,28.5],[22.1,28.2],[22.15,27.6],[21.52,27.7],[22.72,28.5],[23.31,28.1],[19.32,27.1],[19.49,27.1],[19.69,26.9],[17.28,26.2],[19.53,26.3],[19.45,25.9],[22.19,25.5],[17.16,24.6],[17.74,24.4],[18.37,24.5],[19.85,24.4],[20.36,24.5],[21.73,24.2],[22.52,23.9],[20.15,22.9],[20.9,22.9],[16.36,22.0],[16.12,21.5],[19.15,21.9],[21.64,21.7],[22.06,22.2],[18.24,21.3],[18.65,21.4],[18.82,20.8],[16.29,19.8],[23.52,18.1],[18.53,17.7],[20.4,17.5],[19.36,16.0],[19.4,9.8],[17.91,6.2],[23.39,6.2],
]
node08 = [
[9.26,52.3],[9.8,51.1],[8.52,51.6],[11.22,53.0],[11.63,51.6],[11.8,52.1],[12.67,53.3],[13.13,53.6],[12.17,50.8],[12.05,50.1],[13.17,50.8],[12.5,50.1],[14.33,52.2],[14.5,51.3],[15.16,52.3],[15.58,52.5],[10.6,49.8],[10.18,49.0],[11.26,49.4],[11.51,49.0],[15.16,49.4],[10.84,48.3],[13.21,48.8],[13.3,48.0],[11.88,47.7],[12.71,47.5],[12.88,46.9],[15.37,48.1],[14.38,47.7],[8.84,47.9],[8.89,47.3],[9.31,46.5],[7.52,46.2],[11.26,46.7],[12.09,47.3],[9.51,45.4],[10.38,46.0],[11.22,45.5],[13.87,45.5],[14.21,45.2],[15.34,46.2],[7.77,43.7],[7.73,43.1],[8.6,43.0],[8.64,42.7],[9.22,43.6],[11.47,43.7],[11.88,43.3],[13.63,43.1],[14.92,44.0],[15.46,44.6],[15.5,44.6],[14.8,42.5],[7.48,42.3],[7.52,41.9],[8.68,42.1],[9.55,41.9],[9.6,41.6],[10.09,42.7],[9.93,41.3],[10.63,41.5],[7.56,40.8],[10.88,40.6],[13.0,41.0],[13.8,40.6],[14.62,41.7],[15.12,41.9],[15.54,41.9],[14.83,41.1],[15.33,40.6],[12.34,39.8],[14.12,40.0],[14.54,39.8],[9.06,39.2],[8.81,39.0],[9.64,39.2],[9.76,39.2],[10.55,39.5],[11.3,39.4],[12.55,39.5],[12.01,38.9],[13.55,38.8],[14.42,39.0],[7.81,38.5],[11.84,37.9],[12.17,37.5],[13.59,37.6],[13.09,37.2],[13.21,37.0],[12.34,37.0],[10.22,37.5],[10.47,37.2],[15.71,37.0],[13.38,37.2],[8.43,36.2],[12.55,36.0],[13.17,35.0],[13.92,34.8],[8.43,34.4],[10.8,34.4],[9.85,34.2],[7.69,33.5],[9.47,33.5],[12.46,33.2],[14.54,33.8],[14.42,33.7],[10.8,32.9],[12.76,32.9],[7.6,32.1],[10.72,31.9],[15.25,30.8],[7.73,31.2],[11.76,30.0],[13.25,30.1],[9.22,29.9],[10.43,29.8],[7.44,29.1],[13.38,29.0],[12.76,28.4],[15.54,28.3],[13.71,27.3],[10.43,26.9],[12.79,26.9],[10.22,26.4],[11.05,26.3],[11.55,26.0],[8.56,25.5],[9.97,25.3],[13.84,25.3],[14.0,24.1],[11.51,23.3],[12.84,22.5],[10.8,21.7],[11.72,21.5],[12.21,21.1],[7.35,20.6],[8.72,18.3],[9.35,15.2],[14.46,16.2],[15.78,16.0],[10.76,13.7],[14.8,12.9],[8.02,12.0],[7.31,11.3],[13.5,11.7],[13.55,8.5],[12.79,4.4],[14.17,2.5],[8.6,2.2],[8.64,1.7],
[16.16,53.9],[17.28,53.5],[18.15,53.0],[18.82,53.5],[19.11,52.5],[19.31,53.3],[15.95,50.6],[17.03,50.4],[17.44,49.6],[17.61,49.8],[18.28,49.6],[19.81,49.6],[20.53,51.3],[20.15,50.8],[20.44,50.2],[21.64,50.5],[22.06,49.4],[18.11,48.8],[16.53,48.2],[16.57,47.3],[20.98,48.8],[21.1,47.7],[19.61,47.5],[19.94,47.2],[20.11,47.5],[20.57,46.9],[17.94,47.4],[18.03,47.7],[18.94,47.1],[19.03,46.7],[18.53,46.7],[17.99,46.2],[19.44,46.2],[22.1,46.7],[22.47,46.3],[22.93,46.3],[22.97,47.5],[22.76,49.4],[23.52,49.6],[23.43,48.1],[23.97,48.7],[17.12,45.8],[17.49,45.5],[20.23,45.8],[19.23,45.0],[18.69,44.6],[17.16,44.4],[20.48,44.8],[15.91,43.9],[16.41,43.5],[17.95,44.0],[18.4,44.2],[19.15,44.0],[19.07,43.1],[21.6,43.7],[21.44,46.6],[23.06,44.9],[16.86,42.8],[16.7,42.7],[19.52,42.8],[15.87,42.1],[16.86,41.6],[22.52,42.1],[22.72,41.5],[23.35,41.3],[23.68,42.1],[16.95,40.6],[16.61,40.4],[19.57,40.6],[19.73,40.5],[19.78,40.1],[20.02,40.8],[22.43,40.2],[17.2,39.5],[17.16,38.8],[17.41,39.2],[16.12,38.8],[18.2,39.2],[18.15,38.3],[20.11,39.5],[21.15,39.6],[22.01,39.0],[23.14,39.4],[23.76,38.7],[16.91,37.5],[16.74,37.1],[17.37,37.7],[22.72,37.5],[23.39,37.7],[20.73,36.9],[21.56,37.1],[19.36,36.8],[18.36,36.4],[18.9,36.3],[22.52,36.8],[22.56,37.0],[23.18,36.7],[23.47,36.6],[19.4,35.8],[21.89,35.9],[22.85,36.0],[15.95,35.4],[17.54,34.8],[20.65,35.1],[19.61,35.0],[22.4,35.2],[16.2,34.4],[18.74,34.6],[18.57,34.6],[21.27,34.4],[21.39,34.2],[21.6,34.8],[21.73,34.8],[22.64,34.6],[23.64,33.9],[16.07,32.9],[15.83,32.8],[16.66,33.3],[16.66,32.5],[21.56,33.0],[23.23,32.7],[16.53,31.5],[16.45,30.6],[16.83,30.4],[18.49,30.6],[19.94,30.4],[21.64,30.4],[17.07,29.3],[22.01,29.5],[15.99,27.1],[18.45,27.3],[19.32,26.8],[20.27,26.4],[20.86,26.7],[23.26,26.3],[18.98,26.0],[22.43,25.8],[18.7,25.0],[16.82,24.5],[17.78,24.3],[23.02,24.2],[21.73,23.1],[17.57,21.0],[23.68,20.5],[21.35,19.8],[20.65,19.4],[17.57,18.1],[19.07,16.6],[23.85,14.8],[18.53,12.1],[20.77,11.4],[17.53,10.0],[23.73,7.7],[15.79,16.0],
]
node09 = [
[8.69,54.0],[8.85,51.1],[8.1,48.5],[7.69,46.5],[7.31,51.4],[7.39,43.6],[9.1,49.8],[10.18,52.4],[10.51,52.5],[10.35,51.1],[10.01,49.8],[10.47,48.1],[9.8,46.5],[10.14,45.8],[10.35,46.1],[11.39,53.3],[11.59,51.8],[12.3,53.2],[12.42,53.9],[12.38,48.7],[12.55,48.3],[12.3,47.5],[12.67,46.3],[12.71,46.2],[11.1,47.3],[11.3,45.9],[13.58,49.9],[13.04,45.2],[13.63,45.5],[14.0,46.3],[14.5,47.5],[14.54,48.3],[14.58,52.4],[14.83,51.4],[15.21,53.5],[15.42,50.8],[15.54,51.4],[15.46,46.7],[14.79,44.6],[14.71,42.3],[15.17,41.4],[15.33,41.6],[12.92,43.4],[12.96,42.5],[12.59,42.0],[13.84,42.1],[13.63,40.1],[15.71,40.6],[14.62,39.8],[8.6,43.8],[9.31,43.7],[9.55,42.7],[8.14,40.4],[8.77,39.6],[8.81,38.2],[10.43,41.5],[10.68,41.3],[10.31,38.1],[10.39,39.0],[10.3,36.5],[10.63,37.3],[7.64,37.1],[11.47,37.2],[13.13,36.5],[13.38,36.7],[14.38,36.2],[14.92,36.2],[15.37,38.6],[15.0,39.4],[14.79,39.2],[15.74,36.0],[12.76,34.6],[12.46,35.1],[13.25,34.6],[14.42,34.8],[14.75,34.9],[9.06,34.1],[7.27,33.4],[11.68,31.9],[9.31,31.5],[10.93,30.4],[11.18,29.7],[8.27,29.5],[11.88,28.8],[12.01,29.6],[7.44,28.4],[7.85,27.9],[8.64,28.2],[9.93,28.5],[15.33,28.5],[11.34,26.1],[10.76,24.6],[7.68,24.2],[11.3,23.8],[15.75,24.5],[8.85,20.5],[13.55,20.2],[14.29,17.8],[13.67,16.3],[13.8,4.2],[15.29,1.9],[15.45,32.7],
[16.07,50.8],[17.24,50.8],[17.28,51.3],[17.78,51.1],[18.11,51.2],[18.82,51.2],[19.03,51.2],[19.24,52.9],[19.48,53.3],[20.27,52.9],[20.15,51.1],[20.44,50.6],[20.98,50.8],[21.89,50.2],[22.52,50.5],[23.06,53.5],[23.47,52.3],[23.18,50.0],[23.06,50.4],[22.84,49.4],[22.81,48.9],[21.64,49.6],[18.2,49.8],[18.49,50.2],[18.53,50.4],[19.19,49.2],[16.95,48.8],[15.91,48.5],[19.99,48.9],[19.52,48.1],[19.73,47.7],[19.78,48.1],[21.27,48.3],[23.76,48.1],[16.66,46.7],[20.19,47.1],[21.31,46.9],[21.48,47.2],[21.22,46.0],[21.81,46.3],[22.72,47.1],[22.76,46.2],[23.64,46.9],[18.48,46.2],[18.24,45.5],[20.32,45.3],[20.69,45.2],[18.86,44.6],[21.44,44.4],[22.93,44.8],[22.97,44.0],[23.02,44.1],[23.64,44.5],[18.78,43.5],[16.7,42.8],[17.2,42.7],[18.24,42.9],[23.43,42.7],[23.97,43.1],[18.36,41.2],[22.72,42.2],[19.48,41.1],[22.23,41.0],[23.73,41.0],[23.68,40.4],[17.69,38.8],[16.78,38.8],[19.44,39.0],[20.9,39.1],[20.73,38.5],[23.1,39.5],[17.12,37.0],[19.07,37.2],[21.35,37.2],[21.4,37.1],[21.69,37.7],[18.29,37.3],[18.61,36.0],[17.45,34.8],[23.68,35.4],[17.4,33.7],[16.78,33.4],[19.82,33.7],[18.28,32.7],[23.18,33.5],[23.22,33.1],[22.77,32.6],[16.04,31.5],[18.4,31.6],[19.28,31.7],[20.32,31.6],[17.41,30.6],[23.14,30.7],[18.07,30.0],[19.61,30.0],[20.61,30.5],[22.35,29.3],[21.19,28.5],[16.58,26.8],[17.82,26.8],[20.36,26.1],[23.23,26.2],[16.16,24.9],[22.4,24.7],[21.15,24.1],[21.19,24.4],[15.87,23.6],[18.65,22.8],[21.98,22.5],[16.32,19.8],[16.99,20.6],[23.02,20.0],[19.57,17.1],[21.56,15.3],[22.27,14.6],[16.29,6.5],
]
node10 = [
[12.63,54.0],[9.27,49.9],[9.72,49.0],[11.1,48.9],[12.01,49.0],[8.27,47.3],[8.97,46.6],[10.19,45.9],[13.29,45.8],[14.21,46.4],[14.46,46.0],[15.21,47.5],[15.37,46.2],[10.09,44.0],[9.73,42.9],[9.27,41.9],[9.18,41.0],[9.64,41.2],[8.35,40.7],[7.89,40.5],[7.81,39.8],[10.63,40.2],[12.38,42.0],[13.75,40.3],[13.84,39.6],[7.44,39.1],[9.06,38.7],[9.47,38.9],[10.88,38.3],[11.01,38.8],[11.54,37.4],[13.38,38.1],[14.92,37.9],[15.67,38.8],[14.75,35.6],[7.47,33.9],[11.68,34.0],[12.46,33.8],[11.47,32.1],[10.85,24.0],[9.55,19.2],[14.04,15.2],[7.44,7.2],[11.17,8.3],[13.3,7.9],
[18.86,51.9],[21.1,46.9],[16.12,43.8],[16.04,42.7],[16.49,41.4],[18.11,44.1],[19.31,44.8],[20.15,45.3],[21.48,44.9],[20.19,42.9],[18.4,41.7],[22.4,42.5],[23.31,42.5],[23.39,45.4],[18.78,40.1],[21.94,40.1],[22.02,39.6],[23.76,40.4],[17.86,39.4],[19.69,38.9],[20.61,38.9],[19.23,38.5],[22.93,38.3],[20.65,37.5],[17.2,37.1],[22.85,37.1],[23.85,36.7],[17.04,35.2],[17.49,35.0],[17.95,35.1],[19.77,35.2],[16.95,33.5],[22.48,34.0],[21.56,32.3],[16.58,31.7],[19.73,11.5],
]
node11 = [
[10.84,52.2],[12.18,52.0],[14.21,48.9],[12.64,47.9],[12.46,47.1],[13.75,47.2],[7.98,45.8],[8.93,46.6],[9.23,46.2],[9.8,45.6],[8.52,42.0],[9.39,42.1],[8.72,35.8],[11.01,37.1],[11.14,35.5],[11.05,34.8],[13.21,37.9],[13.34,34.4],[14.62,33.5],[13.96,30.7],[10.26,22.8],[10.97,21.6],[8.68,19.2],[11.76,15.1],[10.85,13.8],[10.43,12.7],[8.6,9.8],
[16.37,52.3],[16.82,52.9],[18.11,52.7],[19.86,52.9],[17.69,49.0],[21.6,50.8],[23.1,47.0],[23.39,47.5],[18.57,45.5],[20.32,46.1],[20.48,43.5],[19.61,43.1],[20.73,41.3],[22.23,43.1],[17.24,37.8],[21.19,37.5],[18.74,36.6],[21.07,32.8],[22.72,26.8],[17.86,23.6],[22.06,24.0],[23.97,17.3],[19.73,10.4],
]
node12 = [
[9.68,53.3],[8.77,52.7],[7.35,51.4],[8.72,51.5],[10.34,51.8],[8.31,50.4],[8.39,50.4],[11.42,50.0],[15.08,52.9],[14.54,52.0],[7.56,48.5],[7.6,47.9],[10.06,47.9],[10.84,49.4],[11.92,48.2],[14.92,48.1],[12.8,46.7],[11.22,44.4],[13.58,44.9],[14.09,45.8],[14.8,44.8],[9.1,42.4],[9.8,42.9],[11.68,41.7],[13.74,41.6],[8.68,40.2],[10.8,40.2],[12.26,40.2],[15.78,40.3],[11.13,39.2],[10.76,37.0],[14.33,36.7],[13.34,35.9],[9.76,34.2],[10.63,34.4],[10.51,33.4],[9.43,30.8],[14.95,29.2],[13.71,28.9],[13.8,27.2],[10.84,25.0],[10.14,24.5],[9.6,25.0],[15.34,23.9],[14.38,18.2],[8.97,16.9],[9.35,14.6],[13.38,14.6],[11.1,13.3],[8.85,12.7],[7.31,11.4],[10.6,10.2],[8.6,10.0],
[16.66,51.3],[18.69,52.9],[19.78,52.5],[19.15,49.6],[16.2,47.1],[23.06,49.9],[22.77,48.4],[23.48,49.4],[23.23,47.8],[16.91,43.8],[17.65,44.2],[18.4,43.8],[18.61,42.7],[20.77,45.0],[21.98,45.7],[22.48,43.9],[17.45,41.7],[15.79,40.4],[21.4,40.4],[17.03,37.5],[19.9,37.6],[20.94,36.9],[16.45,36.2],[17.57,35.8],[17.95,35.8],[22.85,34.9],[18.24,33.3],[18.9,31.0],[22.69,18.5],
]

series_names = ["altitude node%02d" % i for i in range(1, 13)]
series_data = [node01, node02, node03, node04, node05, node06, node07, node08, node09, node10, node11, node12]
colors = ["#0072BD", "#D95319", "#EDB120", "#7E2F8E", "#77AC30", "#4DBEEE", "#A2142F",
          "#0072BD", "#D95319", "#EDB120", "#7E2F8E", "#77AC30"]

y_ticks = [20, 40, 60, 80, 100]
x_ticks = [0, 16.61, 24]
first_label = "01/07/2022"
last_label = "25/07/2022"

serif = "Liberation Serif"
dark = "#262626"
grid = "#E4E4E4"

fig = go.Figure()
for name, points, color in zip(series_names, series_data, colors):
    fig.add_trace(go.Scatter(
        x=[p[0] for p in points],
        y=[p[1] for p in points],
        # legend spacing follows legend.font.size, the drawn text is a bit wider
        name='<span style="font-size:51px">%s</span>' % name,
        mode="markers",
        cliponaxis=False,
        marker=dict(color=color, size=8.5, line=dict(width=0)),
    ))

axis_style = dict(
    showline=True, linecolor=dark, linewidth=2, mirror="allticks",
    ticks="inside", ticklen=20, tickwidth=1.5, tickcolor=dark,
    showgrid=True, gridcolor=grid, zeroline=False,
)
fig.update_xaxes(range=[0, 24], tickvals=x_ticks, showticklabels=False, gridwidth=1, **axis_style)
fig.update_yaxes(range=[1.1, 110.1], tickvals=y_ticks, ticklabelstandoff=7, gridwidth=1.5,
                 tickfont=dict(family=serif, size=50, color=dark, weight=700), **axis_style)

fig.add_annotation(text="altitude (m)", xref="paper", yref="paper", x=-0.0330, y=1.0307,
                   xanchor="left", yanchor="middle", showarrow=False,
                   font=dict(family=serif, size=60, color=dark, weight=700))
fig.add_annotation(text=first_label, xref="paper", yref="paper", x=-0.0045, y=-0.0425,
                   xanchor="left", yanchor="middle", showarrow=False,
                   font=dict(family=serif, size=52, color=dark, weight=700))
fig.add_annotation(text=last_label, xref="paper", yref="paper", x=1.0012, y=-0.0425,
                   xanchor="right", yanchor="middle", showarrow=False,
                   font=dict(family=serif, size=52, color=dark, weight=700))

# legend frame, tighter to the entries than plotly's own border
fig.add_shape(type="rect", xref="paper", yref="paper", x0=1.0061, x1=1.2118, y0=0.2313, y1=0.9984,
              line=dict(color=dark, width=2), fillcolor="rgba(0,0,0,0)")

fig.update_layout(
    width=2513, height=1185,
    margin=dict(l=107.6, r=441, t=75.4, b=85, autoexpand=False),
    plot_bgcolor="white", paper_bgcolor="white",
    showlegend=True,
    legend=dict(
        # y stays inside 0..1, otherwise plotly caps the legend at half the page and scrolls it
        x=1.0066, y=0.2366, xanchor="left", yanchor="bottom",
        borderwidth=0, bgcolor="rgba(0,0,0,0)",
        itemsizing="constant", itemwidth=58, tracegroupgap=0,
        font=dict(family=serif, size=48, color="black", weight=700),
    ),
)

fig.write_html("out.html", config={"displayModeBar": False},
               post_script="document.body.style.margin='0';")
